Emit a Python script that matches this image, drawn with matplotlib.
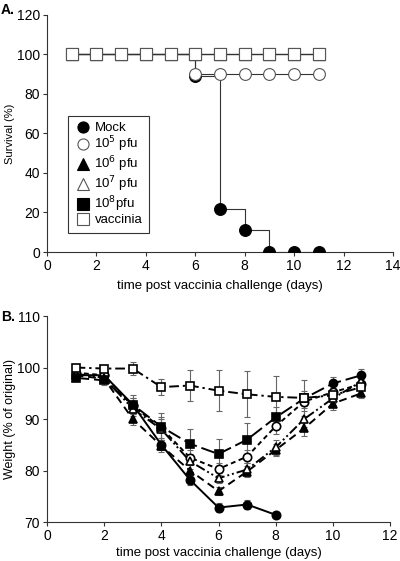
import numpy as np
import matplotlib
matplotlib.use('Agg')
import matplotlib.pyplot as plt
from matplotlib.lines import Line2D

plt.rcParams['font.family'] = ['Liberation Sans', 'DejaVu Sans']

days = [1, 2, 3, 4, 5, 6, 7, 8, 9, 10, 11]
groups = ['Mock', '10$^5$ pfu', '10$^6$ pfu', '10$^7$ pfu', '10$^8$pfu', 'vaccinia']

# panel A - survival (%)
surv_mock = [100, 100, 100, 100, 100, 89, 22, 11, 0, 0, 0]
surv_1e5 = [100, 100, 100, 100, 100, 90, 90, 90, 90, 90, 90]
surv_1e6 = [100] * 11
surv_1e7 = [100] * 11
surv_1e8 = [100] * 11
surv_vac = [100] * 11

# panel B - weight (% of original)
w_mock = [98.5, 98.5, 92.8, 85.0, 78.2, 72.8, 73.4, 71.4]
w_mock_err = [0.5, 0.8, 1.2, 1.0, 1.0, 0.8, 0.8, 0.4]
w_1e5 = [99.0, 98.5, 92.5, 88.3, 82.5, 80.3, 82.7, 88.6, 93.4, 95.2, 96.8]
w_1e5_err = [0.5, 0.8, 1.5, 2.0, 1.5, 1.2, 1.2, 1.5, 1.2, 1.2, 1.0]
w_1e6 = [98.5, 97.8, 90.0, 84.8, 80.0, 76.0, 79.8, 84.0, 88.2, 93.0, 95.0]
w_1e6_err = [0.5, 0.8, 1.2, 1.2, 1.2, 0.8, 1.0, 1.2, 1.5, 1.2, 1.0]
w_1e7 = [98.8, 98.0, 92.0, 88.0, 81.8, 78.5, 80.2, 84.5, 90.0, 94.0, 97.3]
w_1e7_err = [0.5, 0.8, 1.5, 2.0, 1.5, 1.0, 1.2, 1.5, 1.5, 1.2, 1.0]
w_1e8 = [98.0, 97.5, 92.8, 88.5, 85.2, 83.2, 86.0, 90.3, 94.0, 96.9, 98.5]
w_1e8_err = [0.5, 0.8, 1.8, 2.6, 2.8, 3.0, 3.2, 2.0, 1.5, 1.2, 1.2]
w_vac = [100.0, 99.8, 99.8, 96.2, 96.5, 95.5, 94.8, 94.3, 94.1, 94.6, 96.2]
w_vac_err = [0.3, 0.5, 1.2, 1.6, 3.0, 4.0, 4.5, 4.0, 3.5, 1.5, 1.5]

fig = plt.figure(figsize=(4.0, 5.61), dpi=100)
axA = fig.add_axes([0.1175, 0.5508, 0.865, 0.4225])
axB = fig.add_axes([0.1175, 0.0695, 0.8575, 0.3672])

gray = '#555555'
styleA = [
    dict(marker='o', mfc='black', mec='black'),
    dict(marker='o', mfc='white', mec=gray),
    dict(marker='^', mfc='black', mec='black'),
    dict(marker='^', mfc='white', mec=gray),
    dict(marker='s', mfc='black', mec='black'),
    dict(marker='s', mfc='white', mec=gray),
]
survs = [surv_mock, surv_1e5, surv_1e6, surv_1e7, surv_1e8, surv_vac]

for s, st in zip(survs, styleA):
    axA.step(days, s, where='post', color='#333333', lw=0.8, zorder=2)
    axA.plot(days, s, ls='none', ms=8.5, mew=0.8, zorder=3, **st)

axA.set_xlim(0, 14)
axA.set_ylim(0, 120)
axA.set_xticks(range(0, 15, 2))
axA.set_yticks(range(0, 121, 20))
axA.set_ylabel('Survival (%)', fontsize=8, labelpad=1)
axA.set_xlabel('time post vaccinia challenge (days)', fontsize=9.5, labelpad=5)

handles = [Line2D([], [], ls='none', ms=8, mew=0.8, **st) for st in styleA]
leg = axA.legend(handles, groups, loc='lower left', bbox_to_anchor=(0.061, 0.08),
                 borderaxespad=0, fontsize=9.5, frameon=True, fancybox=False,
                 handletextpad=0.3, handlelength=1.2, borderpad=0.5,
                 labelspacing=0.02)
leg.get_frame().set_edgecolor('black')
leg.get_frame().set_linewidth(0.8)

# panel B
series = [
    (days[:8], w_mock, w_mock_err, dict(marker='o', mfc='black', mec='black'), '-'),
    (days, w_1e5, w_1e5_err, dict(marker='o', mfc='white', mec='black'), (0, (2.5, 1.8))),
    (days, w_1e6, w_1e6_err, dict(marker='^', mfc='black', mec='black'), (0, (4, 2.5))),
    (days, w_1e7, w_1e7_err, dict(marker='^', mfc='white', mec='black'), (0, (5, 1.5, 1, 1.5, 1, 1.5))),
    (days, w_1e8, w_1e8_err, dict(marker='s', mfc='black', mec='black'), (0, (7, 2.5))),
    (days, w_vac, w_vac_err, dict(marker='s', mfc='white', mec='black'), (0, (5, 2, 1.2, 2))),
]
for x, y, e, st, ls in series:
    axB.errorbar(x, y, yerr=e, fmt='none', ecolor='#666666', elinewidth=0.8,
                 capsize=2, capthick=0.8, zorder=2)
    axB.plot(x, y, color='black', ls=ls, lw=1.4, zorder=3)
    if st['marker'] == 's' and st['mfc'] == 'black':
        axB.plot(x[:9], y[:9], ls='none', ms=6, mew=1.2, zorder=4, **st)
        axB.plot(x[9:], y[9:], ls='none', marker='o', mfc='black', mec='black',
                 ms=6, zorder=4)
    else:
        axB.plot(x, y, ls='none', ms=6, mew=1.2, zorder=4, **st)

axB.set_xlim(0, 12)
axB.set_ylim(70, 110)
axB.set_xticks(range(0, 13, 2))
axB.set_yticks(range(70, 111, 10))
axB.set_ylabel('Weight (% of original)', fontsize=9, labelpad=1)
axB.set_xlabel('time post vaccinia challenge (days)', fontsize=9.5, labelpad=3)

for ax in (axA, axB):
    ax.spines['top'].set_visible(False)
    ax.spines['right'].set_visible(False)
    ax.spines['left'].set_color('#333333')
    ax.spines['bottom'].set_color('#333333')
    ax.tick_params(labelsize=10, length=3, width=0.8, color='#333333', pad=2)

fig.text(0.002, 0.995, 'A.', fontsize=10, fontweight='bold', va='top', ha='left')
fig.text(0.002, 0.447, 'B.', fontsize=10, fontweight='bold', va='top', ha='left')

fig.savefig('out.png', dpi=100)
